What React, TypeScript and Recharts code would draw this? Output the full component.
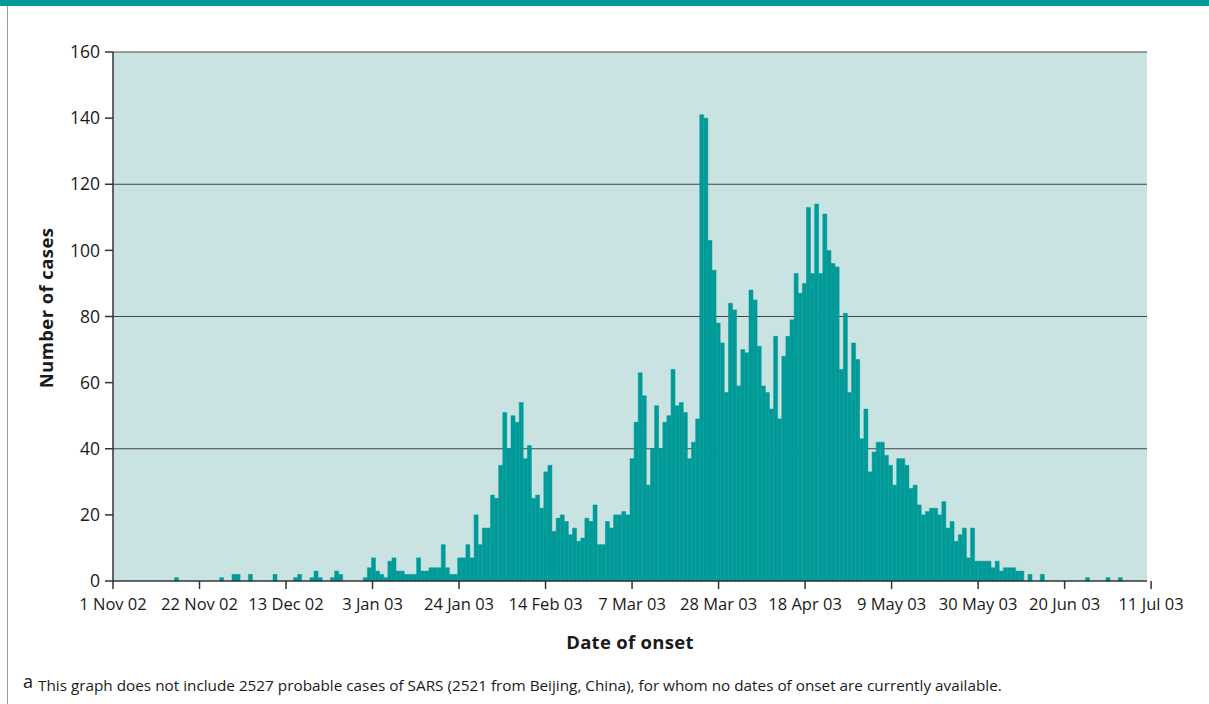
import React from 'react';
import { BarChart, Bar, XAxis, YAxis, CartesianGrid, ReferenceLine } from 'recharts';

// daily probable SARS cases by date of onset, one value per day
const nov02 = [0, 0, 0, 0, 0, 0, 0, 0, 0, 0, 0, 0, 0, 0, 0, 1, 0, 0, 0, 0, 0, 0, 0, 0, 0, 0, 1, 0, 0, 2];
const dec02 = [2, 0, 0, 2, 0, 0, 0, 0, 0, 2, 0, 0, 0, 0, 1, 2, 0, 0, 1, 3, 1, 0, 0, 1, 3, 2, 0, 0, 0, 0, 0];
const jan03 = [1, 4, 7, 3, 2, 1, 6, 7, 3, 3, 2, 2, 2, 7, 3, 3, 4, 4, 4, 11, 4, 2, 2, 7, 7, 11, 7, 20, 11, 16, 16];
const feb03 = [26, 25, 35, 51, 40, 50, 48, 54, 37, 41, 25, 26, 22, 33, 35, 15, 19, 20, 18, 14, 16, 12, 13, 19, 18, 23, 11, 11];
const mar03 = [18, 16, 20, 20, 21, 20, 37, 48, 63, 56, 29, 40, 53, 40, 48, 50, 64, 53, 54, 51, 37, 42, 49, 141, 140, 103, 94, 78, 72, 57, 84];
const apr03 = [82, 59, 70, 69, 88, 85, 71, 59, 57, 52, 74, 49, 68, 74, 79, 93, 87, 90, 113, 93, 114, 93, 111, 100, 96, 95, 64, 81, 57, 72];
const may03 = [67, 43, 52, 33, 39, 42, 42, 38, 35, 29, 37, 37, 35, 28, 29, 23, 20, 21, 22, 22, 20, 24, 16, 18, 12, 14, 16, 7, 16, 6, 6];
const jun03 = [6, 6, 4, 6, 3, 4, 4, 4, 3, 3, 0, 2, 0, 0, 2, 0, 0, 0, 0, 0, 0, 0, 0, 0, 0, 1, 0, 0, 0, 0];
const jul03 = [1, 0, 0, 1, 0, 0, 0, 0, 0, 0];

const tickDays = [0, 21, 42, 63, 84, 105, 126, 147, 168, 189, 210, 231, 252];
const tickLabels = ['1 Nov 02', '22 Nov 02', '13 Dec 02', '3 Jan 03', '24 Jan 03', '14 Feb 03', '7 Mar 03', '28 Mar 03', '18 Apr 03', '9 May 03', '30 May 03', '20 Jun 03', '11 Jul 03'];
const yTicks = [0, 20, 40, 60, 80, 100, 120, 140, 160];
const gridValues = [40, 80, 120, 160];

const dailyCases = [...nov02, ...dec02, ...jan03, ...feb03, ...mar03, ...apr03, ...may03, ...jun03, ...jul03];
const data = dailyCases.map((cases, day) => ({ day, cases }));

const TEAL = '#009a98';
const FONT = '"Open Sans", sans-serif';

export default function App() {
  return (
    <div style={{ position: 'fixed', top: 0, left: 0, width: 1209, height: 704, background: '#fff', overflow: 'hidden', fontFamily: FONT }}>
      <div style={{ position: 'absolute', top: 0, left: 0, width: 1209, height: 6, background: TEAL }} />
      <div style={{ position: 'absolute', top: 6, left: 7, width: 1, height: 698, background: '#9a9a9a' }} />

      <div style={{ position: 'absolute', top: 0, left: 0 }}>
        <BarChart
          width={1209}
          height={630}
          data={data}
          margin={{ top: 52, right: 62, bottom: 9, left: 53 }}
          barCategoryGap={0}
          barGap={0}
        >
          <CartesianGrid
            xAxisId="dates"
            vertical={false}
            horizontalValues={gridValues}
            fill="#c9e3e3"
            fillOpacity={1}
            stroke="#444"
            strokeWidth={1.2}
          />
          <XAxis xAxisId="days" dataKey="day" type="category" hide />
          <XAxis
            xAxisId="dates"
            type="number"
            domain={[0, 252]}
            ticks={tickDays}
            interval={0}
            height={40}
            tickFormatter={(v) => tickLabels[tickDays.indexOf(v)]}
            tick={{ fontSize: 16.5, fill: '#1a1a1a', fontFamily: FONT }}
            tickSize={8}
            tickMargin={9}
            axisLine={{ stroke: '#333', strokeWidth: 1.5 }}
            tickLine={{ stroke: '#333', strokeWidth: 1.5 }}
          />
          <YAxis
            domain={[0, 160]}
            ticks={yTicks}
            interval={0}
            width={60}
            tick={{ fontSize: 17.5, fill: '#1a1a1a', fontFamily: FONT }}
            tickSize={8}
            tickMargin={5}
            axisLine={{ stroke: '#333', strokeWidth: 1.5 }}
            tickLine={{ stroke: '#333', strokeWidth: 1.5 }}
          />
          <ReferenceLine xAxisId="dates" x={252} stroke="#555" strokeWidth={1.5} />
          <Bar
            xAxisId="days"
            dataKey="cases"
            fill={TEAL}
            stroke={TEAL}
            strokeWidth={0.5}
            isAnimationActive={false}
          />
        </BarChart>
      </div>

      <div
        style={{
          position: 'absolute',
          left: 45,
          top: 308,
          transform: 'translate(-50%, -50%) rotate(-90deg)',
          whiteSpace: 'nowrap',
          fontSize: 18.5,
          letterSpacing: 0.4,
          fontWeight: 700,
          color: '#1a1a1a',
        }}
      >
        Number of cases
      </div>
      <div
        style={{
          position: 'absolute',
          left: 630,
          top: 641,
          transform: 'translate(-50%, -50%)',
          whiteSpace: 'nowrap',
          fontSize: 18.5,
          letterSpacing: 0.3,
          fontWeight: 700,
          color: '#1a1a1a',
        }}
      >
        Date of onset
      </div>
      <div style={{ position: 'absolute', left: 23, top: 672, whiteSpace: 'nowrap', fontSize: 15.3, color: '#1a1a1a' }}>
        <span style={{ fontSize: 18, position: 'relative', top: -3, marginRight: 5 }}>a</span>
        This graph does not include 2527 probable cases of SARS (2521 from Beijing, China), for whom no dates of onset are currently available.
      </div>
    </div>
  );
}
